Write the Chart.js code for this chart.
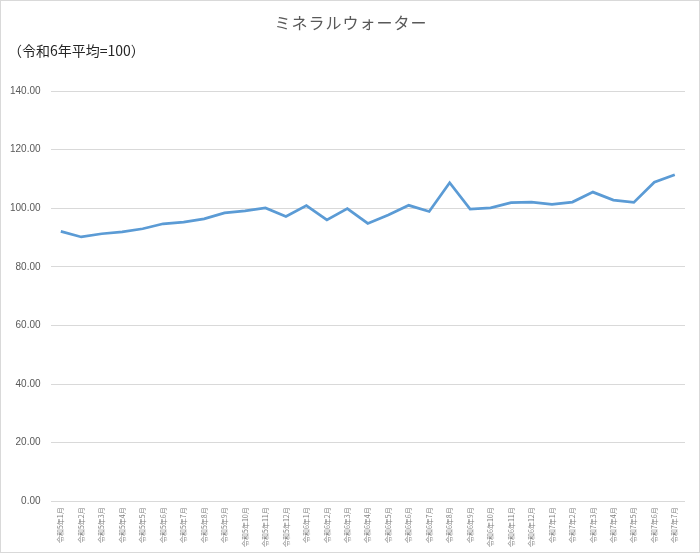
<!DOCTYPE html>
<html><head><meta charset="utf-8">
<script src="https://cdn.jsdelivr.net/npm/chart.js@4"></script>
<style>
html,body{margin:0;padding:0;background:#fff;}
#wrap{width:700px;height:553px;box-sizing:border-box;border:1px solid #d9d9d9;position:relative;}
canvas{position:absolute;left:-1px;top:-1px;}
</style></head><body>
<div id="wrap"><canvas id="c" width="700" height="553"></canvas></div>
<script>
const chartTitle = 'ミネラルウォーター';
const subTitle = '（令和6年平均=100）';
const categories = [
 '令和5年1月','令和5年2月','令和5年3月','令和5年4月','令和5年5月','令和5年6月','令和5年7月','令和5年8月','令和5年9月','令和5年10月','令和5年11月','令和5年12月',
 '令和6年1月','令和6年2月','令和6年3月','令和6年4月','令和6年5月','令和6年6月','令和6年7月','令和6年8月','令和6年9月','令和6年10月','令和6年11月','令和6年12月',
 '令和7年1月','令和7年2月','令和7年3月','令和7年4月','令和7年5月','令和7年6月','令和7年7月'];
const values = [
 92.1, 90.2, 91.3, 91.9, 93.0, 94.7, 95.3, 96.4, 98.4, 99.1, 100.1, 97.2,
 100.9, 96.0, 99.9, 94.8, 97.7, 101.0, 98.9, 108.7, 99.7, 100.1, 101.9, 102.1,
 101.3, 102.1, 105.5, 102.8, 102.0, 108.9, 111.4];
const yMin = 0, yMax = 140, yStep = 20;

const jp = '"Noto Sans CJK JP", "Noto Sans", sans-serif';

const titles = {
  id: 'titles',
  afterDraw(chart) {
    const ctx = chart.ctx;
    ctx.save();
    ctx.textBaseline = 'middle';
    ctx.font = '16px ' + jp;
    ctx.fillStyle = '#595959';
    ctx.textAlign = 'center';
    try { ctx.letterSpacing = '1px'; } catch(e) {}
    ctx.fillText(chartTitle, 351, 23);
    try { ctx.letterSpacing = '0px'; } catch(e) {}
    ctx.font = '14px ' + jp;
    ctx.fillStyle = '#262626';
    ctx.textAlign = 'left';
    ctx.fillText(subTitle, 8, 51);
    ctx.restore();
  }
};

new Chart(document.getElementById('c'), {
  type: 'line',
  data: {
    labels: categories,
    datasets: [{
      data: values,
      borderColor: '#5b9bd5',
      borderWidth: 2.75,
      pointRadius: 0,
      tension: 0,
      fill: false
    }]
  },
  options: {
    responsive: false,
    animation: false,
    layout: { padding: { left: 0, right: 15, top: 0, bottom: 0 } },
    plugins: {
      legend: { display: false },
      tooltip: { enabled: false },
      title: {
        display: true, text: chartTitle, color: 'rgba(0,0,0,0)',
        font: { family: jp, size: 16, weight: 'normal' },
        padding: { top: 12, bottom: 8 }
      },
      subtitle: {
        display: true, text: subTitle, color: 'rgba(0,0,0,0)',
        font: { family: jp, size: 14, weight: 'normal' },
        padding: { top: 4, bottom: 31 }
      }
    },
    scales: {
      x: {
        offset: true,
        grid: { display: false, drawTicks: false },
        border: { display: false },
        ticks: {
          color: '#808080', font: { family: jp, size: 7 },
          minRotation: 90, maxRotation: 90, autoSkip: false, padding: 6
        }
      },
      y: {
        min: yMin, max: yMax,
        grid: { color: '#d9d9d9', drawTicks: false, lineWidth: 1 },
        border: { display: false },
        ticks: {
          stepSize: yStep, color: '#595959', padding: 10,
          font: { family: '"Liberation Sans", sans-serif', size: 10 },
          callback: v => Number(v).toFixed(2)
        }
      }
    }
  },
  plugins: [titles]
});
</script>
</body></html>
